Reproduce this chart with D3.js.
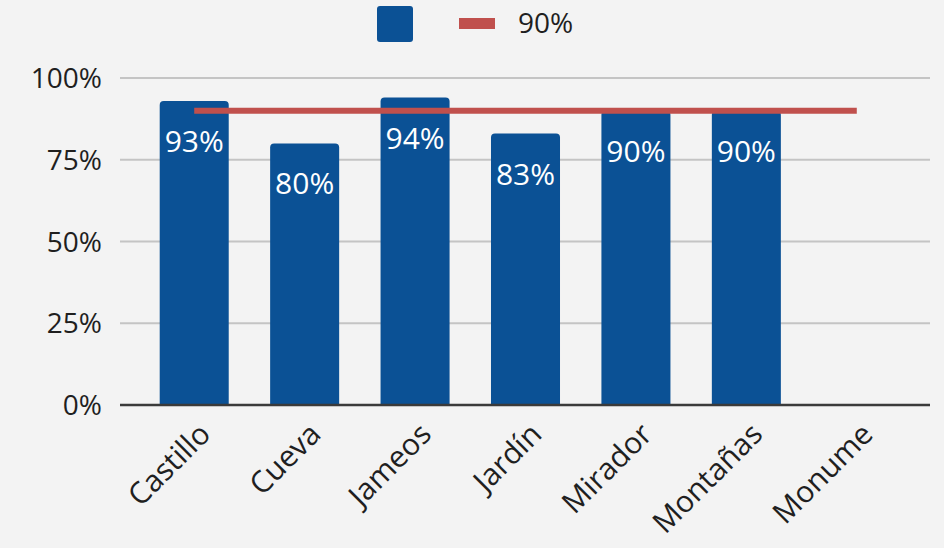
<!DOCTYPE html>
<html>
<head>
<meta charset="utf-8">
<script src="https://cdn.jsdelivr.net/npm/d3@7"></script>
<style>
  body { margin: 0; background: #f3f3f3; }
  text { font-family: "Open Sans", sans-serif; }
</style>
</head>
<body>
<div id="chart"></div>
<script>
// data
var categories = ["Castillo", "Cueva", "Jameos", "Jardín", "Mirador", "Montañas", "Monume"]
var values = [93, 80, 94, 83, 90, 90, null]
var target = 90
var yTicks = [0, 25, 50, 75, 100]

var width = 944, height = 548
var axisLeft = 120, axisRight = 930

var svg = d3.select("#chart")
  .append("svg")
    .attr("width", width)
    .attr("height", height)

svg.append("rect").attr("width", width).attr("height", height).attr("fill", "#f3f3f3")

var x = d3.scaleBand()
  .domain(categories)
  .range([139, 912])
  .paddingInner(0.375)
  .paddingOuter(0.1875)

var y = d3.scaleLinear()
  .domain([0, 100])
  .range([405, 78])

// gridlines
svg.append("g")
  .selectAll("line")
  .data(yTicks.filter(function(d) { return d > 0 }))
  .enter()
  .append("line")
    .attr("x1", axisLeft)
    .attr("x2", axisRight)
    .attr("y1", function(d) { return y(d) })
    .attr("y2", function(d) { return y(d) })
    .attr("stroke", "#c4c4c4")
    .attr("stroke-width", 2)

// y tick labels
svg.append("g")
  .selectAll("text")
  .data(yTicks)
  .enter()
  .append("text")
    .attr("x", 102)
    .attr("y", function(d) { return y(d) })
    .attr("dy", "0.36em")
    .attr("text-anchor", "end")
    .attr("font-size", 28)
    .attr("fill", "#1f1f1f")
    .text(function(d) { return d + "%" })

// bars with rounded tops
var r = 4
var bars = categories.map(function(c, i) { return {cat: c, v: values[i]} })
  .filter(function(d) { return d.v != null })

svg.append("g")
  .selectAll("path")
  .data(bars)
  .enter()
  .append("path")
    .attr("fill", "#0b5195")
    .attr("d", function(d) {
      var x0 = x(d.cat), x1 = x0 + x.bandwidth(), y0 = y(0), y1 = y(d.v)
      return "M" + x0 + "," + y0 + "V" + (y1 + r) + "Q" + x0 + "," + y1 + " " + (x0 + r) + "," + y1 +
        "H" + (x1 - r) + "Q" + x1 + "," + y1 + " " + x1 + "," + (y1 + r) + "V" + y0 + "Z"
    })

// axis line
svg.append("line")
  .attr("x1", axisLeft)
  .attr("x2", axisRight)
  .attr("y1", y(0))
  .attr("y2", y(0))
  .attr("stroke", "#3a3a3a")
  .attr("stroke-width", 2.5)

// target line from first to last category centre
svg.append("line")
  .attr("x1", x(categories[0]) + x.bandwidth() / 2)
  .attr("x2", x(categories[categories.length - 1]) + x.bandwidth() / 2)
  .attr("y1", y(target))
  .attr("y2", y(target))
  .attr("stroke", "#c0504d")
  .attr("stroke-width", 6)

// value labels inside bars
svg.append("g")
  .selectAll("text")
  .data(bars)
  .enter()
  .append("text")
    .attr("x", function(d) { return x(d.cat) + x.bandwidth() / 2 })
    .attr("y", function(d) { return y(d.v) + 51 })
    .attr("text-anchor", "middle")
    .attr("font-size", 30)
    .attr("fill", "#ffffff")
    .text(function(d) { return d.v + "%" })

// category labels rotated
svg.append("g")
  .selectAll("text")
  .data(categories)
  .enter()
  .append("text")
    .attr("text-anchor", "end")
    .attr("font-size", 30)
    .attr("fill", "#1f1f1f")
    .attr("transform", function(d) {
      return "translate(" + (x(d) + x.bandwidth() / 2 + 18) + "," + 436 + ") rotate(-45)"
    })
    .text(function(d) { return d })

// legend
var legend = svg.append("g")
legend.append("rect")
  .attr("x", 377).attr("y", 6)
  .attr("width", 36).attr("height", 36)
  .attr("rx", 3)
  .attr("fill", "#0b5195")
legend.append("rect")
  .attr("x", 459).attr("y", 18)
  .attr("width", 36).attr("height", 11)
  .attr("fill", "#c0504d")
legend.append("text")
  .attr("x", 518).attr("y", 33)
  .attr("font-size", 28)
  .attr("fill", "#1f1f1f")
  .text(target + "%")
</script>
</body>
</html>
